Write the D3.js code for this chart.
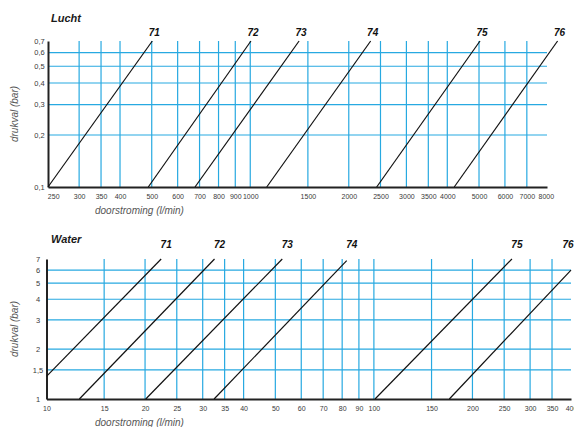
<!DOCTYPE html>
<html>
<head>
<meta charset="utf-8">
<script src="https://cdn.jsdelivr.net/npm/d3@7"></script>
<style>
  html, body { margin: 0; padding: 0; background: #fff; }
  svg { display: block; font-family: "Liberation Sans", Arial, sans-serif; }
  .tick text { fill: #3a3a3a; }
  .title { font-weight: bold; font-style: italic; font-size: 11px; fill: #1a1a1a; }
  .ax-title { font-style: italic; font-size: 10px; fill: #555; }
  .line-label { font-weight: bold; font-style: italic; font-size: 10px; fill: #111; text-anchor: middle; }
</style>
</head>
<body>
<svg id="chart"></svg>
<script>
// ── DATA ─────────────────────────────────────────────────────────────────
const LINE_NAMES = ["71", "72", "73", "74", "75", "76"];

// Lucht: flow (l/min) at the low / high pressure end of each line
const AIR_FLOW_LOW  = [241, 488, 678, 1123, 2434, 4200];
const AIR_FLOW_HIGH = [502, 1005, 1410, 2333, 5035, 8690];
const AIR_DP_LOW    = [0.1, 0.1, 0.1, 0.1, 0.1, 0.1];
const AIR_DP_HIGH   = [0.7, 0.7, 0.7, 0.7, 0.7, 0.7];
const AIR_X_TICKS   = [250, 300, 350, 400, 500, 600, 700, 800, 900, 1000, 1500,
                       2000, 2500, 3000, 3500, 4000, 5000, 6000, 7000, 8000];
const AIR_Y_TICKS   = [0.1, 0.2, 0.3, 0.4, 0.5, 0.6, 0.7];

// Water
const WATER_FLOW_LOW  = [10, 12.6, 20.1, 32.5, 100.8, 170];
const WATER_FLOW_HIGH = [22.4, 32.6, 52.5, 82.6, 264, 400];
const WATER_DP_LOW    = [1.37, 1, 1, 1, 1, 1];
const WATER_DP_HIGH   = [7, 7, 7, 6.85, 7, 6];
const WATER_X_TICKS   = [10, 15, 20, 25, 30, 35, 40, 50, 60, 70, 80, 90, 100,
                         150, 200, 250, 300, 350, 400];
const WATER_Y_TICKS   = [1, 1.5, 2, 3, 4, 5, 6, 7];

// ── SETUP ────────────────────────────────────────────────────────────────
const W = 574, H = 427;
const GRID = "#27a9e1";
const comma = d => String(d).replace(".", ",");

const svg = d3.select("#chart")
  .attr("width", W)
  .attr("height", H)
  .attr("viewBox", `0 0 ${W} ${H}`);

svg.append("rect").attr("width", W).attr("height", H).attr("fill", "#fff");

function drawPanel(cfg) {
  const g = svg.append("g");
  const x = cfg.x, y = cfg.y;
  const [x0, x1] = x.range();
  const [y0, y1] = y.range();   // y0 = bottom

  const lines = LINE_NAMES.map((name, i) => ({
    name,
    a: [cfg.flowLow[i], cfg.dpLow[i]],
    b: [cfg.flowHigh[i], cfg.dpHigh[i]],
  }));

  // ── GRID ──
  g.append("g").selectAll("line")
    .data(cfg.xTicks.slice(1, -1))
    .join("line")
      .attr("x1", d => x(d)).attr("x2", d => x(d))
      .attr("y1", y0).attr("y2", y1)
      .attr("stroke", GRID).attr("stroke-width", 1.2);

  g.append("g").selectAll("line")
    .data(cfg.yTicks.slice(1, -1))
    .join("line")
      .attr("x1", x0).attr("x2", x1)
      .attr("y1", d => y(d)).attr("y2", d => y(d))
      .attr("stroke", GRID).attr("stroke-width", 1.2);

  // ── AXES ──
  g.append("g")
    .attr("transform", `translate(0,${y0})`)
    .call(d3.axisBottom(x).tickValues(cfg.xTicks).tickFormat(comma)
      .tickSize(0).tickSizeOuter(0).tickPadding(7))
    .call(ax => ax.select(".domain").attr("stroke", "#222").attr("stroke-width", 2))
    .call(ax => ax.selectAll(".tick text").style("font-size", "7px").attr("font-family", null));

  g.append("g")
    .attr("transform", `translate(${x0},0)`)
    .call(d3.axisLeft(y).tickValues(cfg.yTicks).tickFormat(comma)
      .tickSize(0).tickSizeOuter(0))
    .call(ax => ax.select(".domain").attr("stroke", "#222").attr("stroke-width", 2))
    .call(ax => ax.selectAll(".tick text")
      .attr("x", -8.5).attr("text-anchor", "middle")
      .attr("font-family", null).style("font-size", "7.5px"));

  // ── CURVES ──
  g.append("g").selectAll("line")
    .data(lines)
    .join("line")
      .attr("x1", d => x(d.a[0])).attr("y1", d => y(d.a[1]))
      .attr("x2", d => x(d.b[0])).attr("y2", d => y(d.b[1]))
      .attr("stroke", "#111").attr("stroke-width", 1.2);

  g.append("g").selectAll("text")
    .data(lines)
    .join("text")
      .attr("class", "line-label")
      .attr("x", d => Math.min(x(d.b[0]) + cfg.labelDx, W - 6))
      .attr("y", cfg.labelY)
      .text(d => d.name);

  // ── TITLES ──
  g.append("text").attr("class", "title")
    .attr("x", 51).attr("y", cfg.titleY).text(cfg.title);

  g.append("text").attr("class", "ax-title")
    .attr("x", 95).attr("y", cfg.xTitleY).text("doorstroming (l/min)");

  g.append("text").attr("class", "ax-title")
    .attr("transform", `translate(18,${(y0 + y1) / 2}) rotate(-90)`)
    .attr("text-anchor", "middle")
    .text("drukval (bar)");
}

// ── LUCHT ────────────────────────────────────────────────────────────────
drawPanel({
  title: "Lucht", titleY: 21.5, labelY: 35.5, labelDx: 2, xTitleY: 213.5,
  x: d3.scaleLog().domain([241, 8067]).range([48, 547]),
  y: d3.scaleLog().domain([0.1, 0.7]).range([187, 41]),
  xTicks: AIR_X_TICKS, yTicks: AIR_Y_TICKS,
  flowLow: AIR_FLOW_LOW, flowHigh: AIR_FLOW_HIGH,
  dpLow: AIR_DP_LOW, dpHigh: AIR_DP_HIGH,
});

// ── WATER ────────────────────────────────────────────────────────────────
drawPanel({
  title: "Water", titleY: 242.5, labelY: 248, labelDx: 5, xTitleY: 426,
  x: d3.scaleLog().domain([10, 400]).range([46.5, 571]),
  y: d3.scaleLog().domain([1, 7]).range([399, 259]),
  xTicks: WATER_X_TICKS, yTicks: WATER_Y_TICKS,
  flowLow: WATER_FLOW_LOW, flowHigh: WATER_FLOW_HIGH,
  dpLow: WATER_DP_LOW, dpHigh: WATER_DP_HIGH,
});
</script>
</body>
</html>
